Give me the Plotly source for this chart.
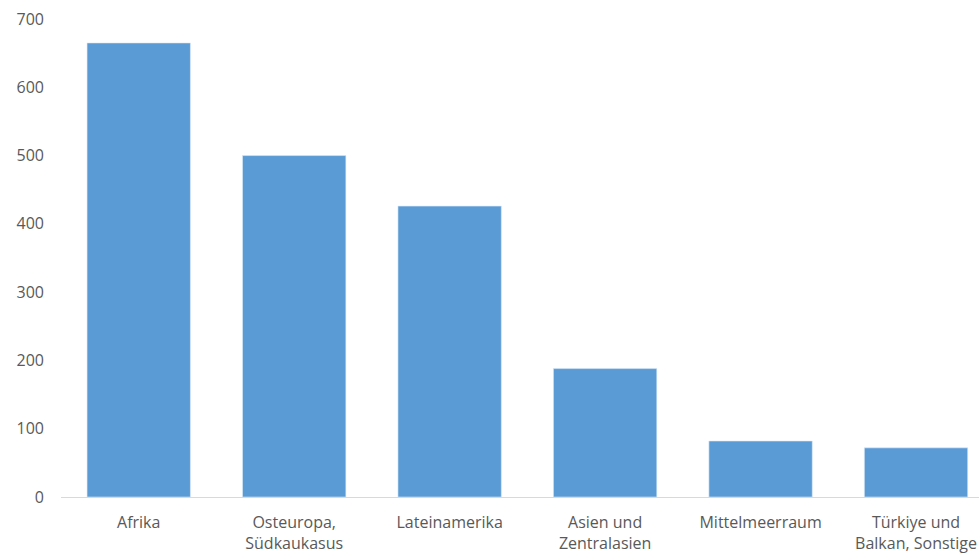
import plotly.graph_objects as go

categories = [
    "Afrika",
    "Osteuropa,<br>Südkaukasus",
    "Lateinamerika",
    "Asien und<br>Zentralasien",
    "Mittelmeerraum",
    "Türkiye und<br>Balkan, Sonstige",
]
values = [665, 500, 426, 188, 82, 72]
y_ticks = [0, 100, 200, 300, 400, 500, 600, 700]

fig = go.Figure(
    go.Bar(
        x=list(range(len(categories))),
        y=values,
        marker=dict(color="#5B9BD5", line=dict(color="#DDEBF7", width=0.6)),
        hoverinfo="skip",
    )
)

fig.update_layout(
    width=979,
    height=556,
    margin=dict(l=61, r=0, t=19, b=59),
    paper_bgcolor="white",
    plot_bgcolor="white",
    bargap=0.335,
    showlegend=False,
    font=dict(family="Open Sans, sans-serif", size=16, color="#595959"),
)

fig.update_xaxes(
    tickmode="array",
    tickvals=list(range(len(categories))),
    ticktext=categories,
    range=[-0.5, 5.405],
    showgrid=False,
    showline=True,
    linecolor="#D9D9D9",
    linewidth=1,
    ticks="",
    ticklabelstandoff=11,
    tickfont=dict(size=16, color="#595959"),
)

fig.update_yaxes(
    range=[0, 700],
    tickmode="array",
    tickvals=y_ticks,
    showgrid=False,
    zeroline=False,
    showline=False,
    ticks="",
    ticklabelstandoff=16,
    tickfont=dict(size=16, color="#595959"),
)

fig.write_html("out.html")
